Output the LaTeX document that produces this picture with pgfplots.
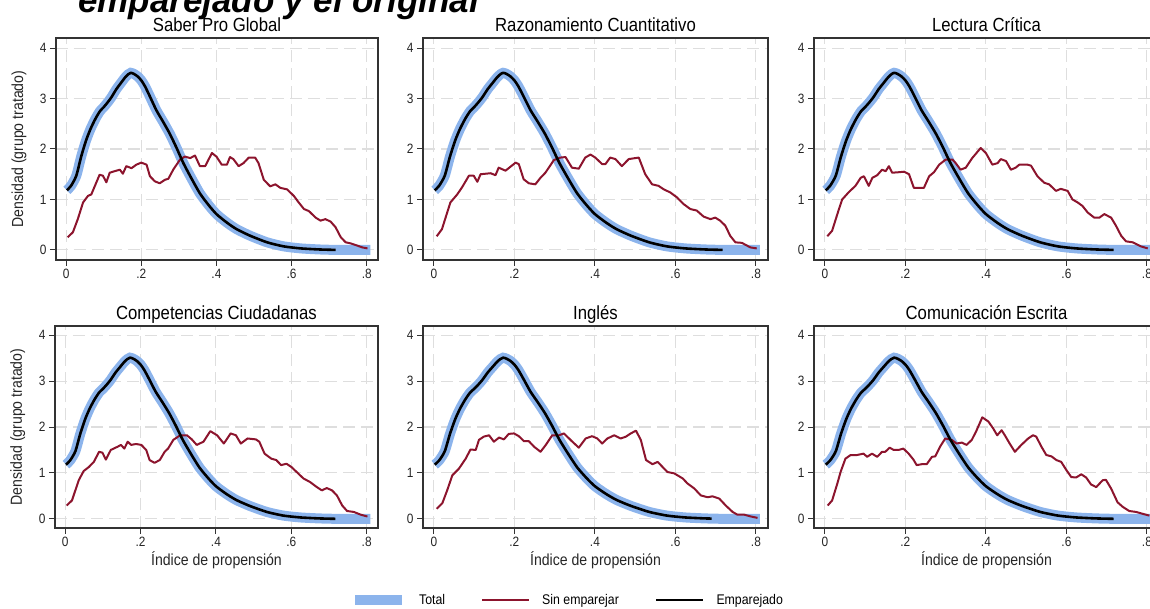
\documentclass[border=0pt]{standalone}
\usepackage{fontspec}
\setmainfont{Liberation Sans}[FakeStretch=0.88]
\newfontfamily\titlefont{Liberation Sans}
\usepackage{pgfplots}
\pgfplotsset{compat=1.18}
\usepackage{pgfplotstable}

\definecolor{totalblue}{RGB}{140,180,236}
\definecolor{sinred}{RGB}{140,20,45}
\definecolor{gridgray}{RGB}{222,222,222}

% densidad del grupo total / emparejado (igual en los seis paneles)
\pgfplotstableread{
x y
0.002 1.18
0.013 1.27
0.027 1.47
0.040 1.85
0.053 2.17
0.065 2.40
0.078 2.60
0.090 2.75
0.100 2.83
0.110 2.92
0.120 3.02
0.134 3.19
0.145 3.30
0.156 3.41
0.165 3.48
0.172 3.51
0.180 3.49
0.190 3.44
0.200 3.36
0.210 3.24
0.223 3.04
0.240 2.77
0.258 2.54
0.276 2.30
0.294 2.02
0.312 1.72
0.334 1.41
0.356 1.12
0.379 0.89
0.400 0.71
0.428 0.54
0.454 0.41
0.490 0.28
0.535 0.15
0.579 0.07
0.624 0.03
0.670 0.01
0.690 0.005
0.717 0.00
0.760 0.00
0.810 0.00
}\totaltab

\pgfplotstableread{
x y
0.004 0.25
0.018 0.35
0.031 0.61
0.045 0.94
0.058 1.07
0.067 1.10
0.080 1.33
0.089 1.49
0.098 1.47
0.107 1.34
0.116 1.53
0.129 1.56
0.143 1.59
0.151 1.51
0.160 1.66
0.174 1.62
0.187 1.69
0.200 1.73
0.214 1.69
0.223 1.46
0.236 1.36
0.249 1.32
0.263 1.39
0.272 1.41
0.285 1.59
0.303 1.79
0.316 1.85
0.330 1.82
0.343 1.87
0.356 1.66
0.370 1.66
0.388 1.92
0.400 1.85
0.414 1.69
0.428 1.69
0.436 1.84
0.445 1.80
0.459 1.66
0.472 1.72
0.486 1.83
0.503 1.83
0.512 1.72
0.526 1.39
0.543 1.26
0.557 1.30
0.570 1.23
0.588 1.20
0.606 1.07
0.619 0.94
0.633 0.81
0.646 0.77
0.664 0.64
0.677 0.58
0.690 0.61
0.704 0.56
0.717 0.45
0.731 0.25
0.744 0.15
0.757 0.13
0.775 0.085
0.788 0.05
0.802 0.03
}\redA

\pgfplotstableread{
x y
0.007 0.27
0.020 0.41
0.041 0.94
0.058 1.10
0.070 1.24
0.087 1.47
0.099 1.47
0.108 1.35
0.116 1.50
0.141 1.52
0.153 1.48
0.161 1.63
0.178 1.57
0.203 1.73
0.211 1.70
0.223 1.40
0.236 1.32
0.252 1.30
0.265 1.43
0.277 1.53
0.298 1.78
0.314 1.83
0.327 1.84
0.343 1.63
0.360 1.61
0.376 1.83
0.389 1.89
0.401 1.83
0.418 1.70
0.426 1.70
0.438 1.83
0.451 1.80
0.467 1.66
0.484 1.80
0.509 1.83
0.525 1.50
0.542 1.30
0.558 1.27
0.571 1.20
0.587 1.14
0.604 1.04
0.620 0.91
0.637 0.81
0.653 0.78
0.670 0.66
0.687 0.61
0.699 0.64
0.711 0.58
0.724 0.48
0.736 0.28
0.749 0.15
0.765 0.14
0.786 0.05
0.802 0.03
}\redB

\pgfplotstableread{
x y
0.006 0.27
0.018 0.38
0.035 0.81
0.043 1.00
0.060 1.15
0.076 1.27
0.089 1.43
0.097 1.46
0.109 1.27
0.118 1.43
0.130 1.48
0.142 1.59
0.151 1.56
0.159 1.66
0.167 1.53
0.184 1.54
0.197 1.55
0.209 1.50
0.221 1.23
0.234 1.23
0.246 1.23
0.259 1.46
0.271 1.54
0.284 1.69
0.300 1.79
0.317 1.79
0.325 1.72
0.337 1.59
0.350 1.63
0.366 1.82
0.387 2.02
0.400 1.92
0.416 1.69
0.429 1.72
0.437 1.80
0.450 1.76
0.462 1.59
0.474 1.63
0.483 1.69
0.503 1.69
0.512 1.67
0.528 1.46
0.545 1.33
0.557 1.30
0.574 1.17
0.586 1.21
0.603 1.17
0.615 1.00
0.628 0.94
0.640 0.87
0.653 0.74
0.669 0.64
0.682 0.64
0.694 0.71
0.711 0.64
0.723 0.48
0.736 0.28
0.748 0.17
0.765 0.15
0.785 0.07
0.802 0.03
}\redC

\pgfplotstableread{
x y
0.004 0.29
0.018 0.40
0.036 0.84
0.049 1.04
0.063 1.13
0.076 1.24
0.090 1.46
0.099 1.44
0.108 1.29
0.121 1.50
0.139 1.57
0.148 1.61
0.157 1.53
0.166 1.68
0.175 1.61
0.188 1.63
0.202 1.61
0.215 1.50
0.224 1.28
0.237 1.22
0.251 1.28
0.264 1.46
0.273 1.53
0.287 1.72
0.305 1.82
0.323 1.82
0.336 1.73
0.349 1.61
0.367 1.68
0.385 1.91
0.403 1.82
0.421 1.64
0.439 1.86
0.453 1.82
0.466 1.64
0.484 1.75
0.506 1.73
0.515 1.68
0.529 1.42
0.547 1.31
0.560 1.28
0.573 1.17
0.587 1.20
0.600 1.13
0.618 0.99
0.632 0.88
0.650 0.80
0.668 0.69
0.681 0.62
0.694 0.67
0.708 0.62
0.721 0.51
0.735 0.29
0.748 0.17
0.766 0.15
0.784 0.09
0.802 0.05
}\redD

\pgfplotstableread{
x y
0.007 0.22
0.021 0.34
0.033 0.62
0.046 0.95
0.062 1.09
0.079 1.31
0.091 1.51
0.104 1.50
0.112 1.72
0.124 1.79
0.137 1.82
0.149 1.68
0.162 1.77
0.174 1.73
0.186 1.85
0.199 1.86
0.211 1.80
0.224 1.69
0.236 1.69
0.249 1.57
0.265 1.46
0.278 1.61
0.294 1.82
0.311 1.82
0.323 1.86
0.344 1.68
0.360 1.55
0.377 1.75
0.393 1.80
0.406 1.75
0.418 1.64
0.431 1.75
0.448 1.82
0.464 1.75
0.477 1.79
0.489 1.86
0.502 1.92
0.514 1.72
0.527 1.28
0.543 1.19
0.556 1.24
0.568 1.13
0.580 1.02
0.597 0.99
0.618 0.88
0.630 0.77
0.647 0.66
0.663 0.51
0.680 0.47
0.692 0.49
0.709 0.44
0.725 0.29
0.742 0.15
0.754 0.09
0.771 0.09
0.788 0.05
0.804 0.02
}\redE

\pgfplotstableread{
x y
0.007 0.29
0.018 0.40
0.031 0.77
0.039 1.02
0.051 1.31
0.064 1.39
0.080 1.39
0.096 1.42
0.105 1.35
0.117 1.42
0.130 1.35
0.142 1.46
0.150 1.46
0.161 1.55
0.171 1.50
0.183 1.50
0.195 1.53
0.208 1.42
0.220 1.29
0.228 1.17
0.241 1.19
0.253 1.19
0.266 1.35
0.274 1.36
0.286 1.57
0.299 1.75
0.315 1.72
0.327 1.64
0.340 1.66
0.352 1.61
0.365 1.72
0.377 1.93
0.391 2.21
0.406 2.12
0.418 1.97
0.428 1.82
0.439 1.93
0.447 1.82
0.459 1.64
0.472 1.46
0.488 1.61
0.505 1.75
0.517 1.82
0.525 1.79
0.538 1.57
0.550 1.39
0.563 1.36
0.575 1.28
0.587 1.24
0.600 1.06
0.612 0.91
0.624 0.90
0.637 0.97
0.649 0.90
0.661 0.75
0.674 0.69
0.690 0.84
0.698 0.85
0.711 0.66
0.727 0.36
0.740 0.26
0.756 0.17
0.773 0.15
0.789 0.11
0.806 0.07
}\redF

\pgfplotsset{
  panel/.style={
    scale only axis,
    xmin=-0.027, xmax=0.83, ymin=-0.2, ymax=4.2,
    xtick={0,0.2,0.4,0.6,0.8}, xticklabels={0,.2,.4,.6,.8},
    ytick={0,1,2,3,4}, yticklabels={0,1,2,3,4},
    tick pos=left, tick align=outside,
    major tick length=6pt,
    every tick/.style={black!80, line width=1pt},
    axis line style={black!80, line width=1.2pt},
    grid=major,
    major grid style={gridgray, line width=1.1pt, dash pattern=on 12pt off 6pt},
    tick label style={font=\fontsize{13.5}{15}\selectfont, text=black!85},
    title style={font=\fontsize{19}{22}\selectfont, at={(0.5,1)}, anchor=base, yshift=0.5pt},
    label style={font=\fontsize{16}{18}\selectfont, text=black!85},
    xlabel style={at={(axis description cs:0.5,0)}, anchor=base, yshift=-37pt},
    ylabel style={at={(axis description cs:-0.115,0.5)}, anchor=center},
  },
  totstyle/.style={totalblue, line width=10pt, smooth, tension=0.4},
  redstyle/.style={sinred, line width=2pt, line join=round},
  blkstyle/.style={black, line width=2.6pt, smooth, tension=0.4, line join=round},
}

\begin{document}
\begin{tikzpicture}
\useasboundingbox (0pt,0pt) rectangle (1150pt,608pt);

\node[anchor=base west, inner sep=0pt, font=\titlefont\fontsize{35}{40}\selectfont\bfseries\itshape]
  at (78pt,595.3pt) {emparejado y el original};

% fila superior
\begin{axis}[panel, at={(56pt,348pt)}, width=322pt, height=222pt,
  title={Saber Pro Global}, ylabel={Densidad (grupo tratado)}]
\addplot[totstyle] table[x=x,y=y] {\totaltab};
\addplot[redstyle] table[x=x,y=y] {\redA};
\addplot[blkstyle, restrict x to domain=0:0.72] table[x=x,y=y] {\totaltab};
\end{axis}

\begin{axis}[panel, at={(423pt,348pt)}, width=345pt, height=222pt,
  title={Razonamiento Cuantitativo}]
\addplot[totstyle] table[x=x,y=y] {\totaltab};
\addplot[redstyle] table[x=x,y=y] {\redB};
\addplot[blkstyle, restrict x to domain=0:0.72] table[x=x,y=y] {\totaltab};
\end{axis}

\begin{axis}[panel, at={(814pt,348pt)}, width=345pt, height=222pt,
  title={Lectura Crítica}]
\addplot[totstyle] table[x=x,y=y] {\totaltab};
\addplot[redstyle] table[x=x,y=y] {\redC};
\addplot[blkstyle, restrict x to domain=0:0.72] table[x=x,y=y] {\totaltab};
\end{axis}

% fila inferior
\begin{axis}[panel, at={(55pt,80pt)}, width=323pt, height=202pt,
  title={Competencias Ciudadanas}, ylabel={Densidad (grupo tratado)},
  xlabel={Índice de propensión}]
\addplot[totstyle] table[x=x,y=y] {\totaltab};
\addplot[redstyle] table[x=x,y=y] {\redD};
\addplot[blkstyle, restrict x to domain=0:0.72] table[x=x,y=y] {\totaltab};
\end{axis}

\begin{axis}[panel, at={(423pt,80pt)}, width=345pt, height=202pt,
  title={Inglés}, xlabel={Índice de propensión},
  legend columns=3,
  legend style={at={(0.419,-0.356)}, anchor=center, draw=none, fill=none,
    font=\fontsize{14}{16}\selectfont,
    /tikz/every odd column/.append style={column sep=10pt},
    /tikz/every even column/.append style={column sep=34pt}},
  legend image code/.code={\draw[#1, line cap=butt] (0pt,0pt) -- (47pt,0pt);}]
\addplot[totstyle] table[x=x,y=y] {\totaltab};
\addlegendentry{Total}
\addplot[redstyle] table[x=x,y=y] {\redE};
\addlegendentry{Sin emparejar}
\addplot[blkstyle, restrict x to domain=0:0.69] table[x=x,y=y] {\totaltab};
\addlegendentry{Emparejado}
\end{axis}

\begin{axis}[panel, at={(814pt,80pt)}, width=345pt, height=202pt,
  title={Comunicación Escrita}, xlabel={Índice de propensión}]
\addplot[totstyle] table[x=x,y=y] {\totaltab};
\addplot[redstyle] table[x=x,y=y] {\redF};
\addplot[blkstyle, restrict x to domain=0:0.72] table[x=x,y=y] {\totaltab};
\end{axis}
\end{tikzpicture}
\end{document}
